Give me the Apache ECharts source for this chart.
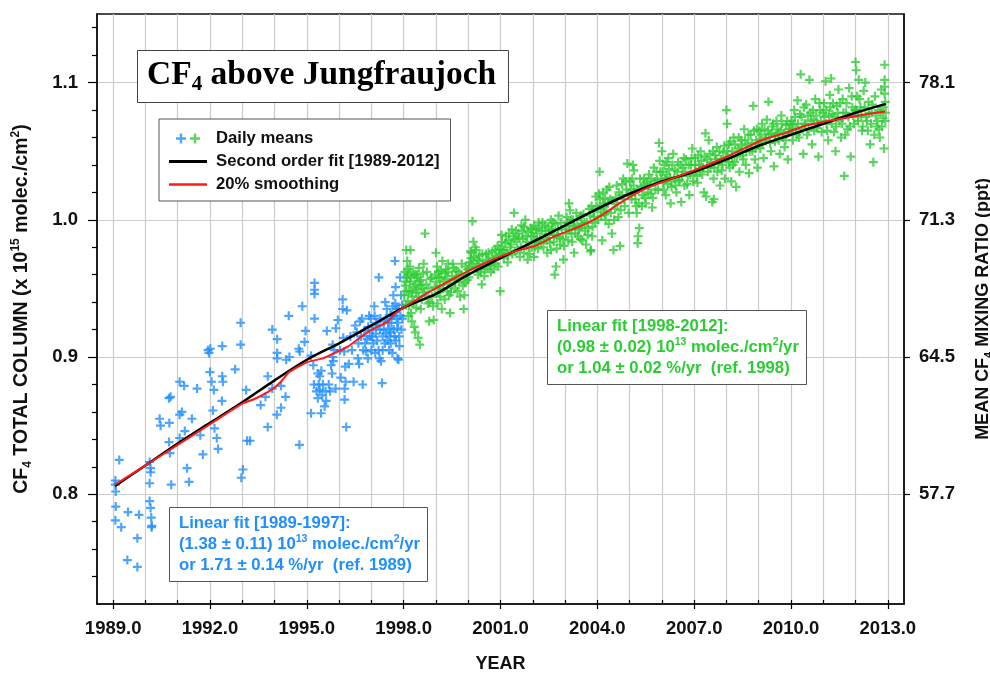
<!DOCTYPE html>
<html><head><meta charset="utf-8">
<script src="https://cdn.jsdelivr.net/npm/echarts@6/dist/echarts.min.js"></script>
<style>html,body{margin:0;padding:0;background:#fff}#c{width:990px;height:673px}</style>
</head><body><div id="c"></div>
<script>
// ---------- data ----------
const yearTicks = [1989,1990,1991,1992,1993,1994,1995,1996,1997,1998,1999,2000,2001,2002,2003,2004,2005,2006,2007,2008,2009,2010,2011,2012,2013];
const yearLabelTicks = [1989,1992,1995,1998,2001,2004,2007,2010,2013];
const columnTicks = [0.8,0.9,1.0,1.1];
const columnMinorTicks = [0.74,0.76,0.78,0.82,0.84,0.86,0.88,0.92,0.94,0.96,0.98,1.02,1.04,1.06,1.08,1.12,1.14];
const mixingRatioLabels = ['57.7','64.5','71.3','78.1'];

const fitYears = [1989.06,1990,1991,1992,1993,1994,1995,1996,1997,1998,1999,2000,2001,2002,2003,2004,2005,2006,2007,2008,2009,2010,2011,2012,2012.94];
const fitValues = [0.806,0.821,0.837,0.852,0.867,0.883,0.898,0.910,0.923,0.936,0.946,0.960,0.972,0.984,0.996,1.008,1.019,1.028,1.035,1.044,1.054,1.062,1.070,1.078,1.0845];

const smoothYears = [1989.06,1990.14,1991,1992,1993,1993.4,1993.9,1994.2,1994.45,1995.04,1995.5,1995.87,1996.3,1996.7,1997.1,1997.52,1997.73,1998.34,1998.96,1999.58,2000.2,2000.82,2001.44,2002.06,2002.68,2003.45,2004.07,2004.69,2005.31,2005.92,2006.54,2007.16,2007.78,2008.55,2009.17,2009.79,2010.41,2011.03,2011.65,2012.27,2012.92];
const smoothValues = [0.807,0.823,0.836,0.851,0.866,0.8696,0.876,0.882,0.889,0.8965,0.899,0.903,0.908,0.915,0.921,0.926,0.9316,0.941,0.9496,0.9576,0.965,0.9715,0.977,0.981,0.988,0.9951,1.0024,1.0121,1.0206,1.0267,1.032,1.0376,1.0436,1.052,1.0587,1.063,1.0684,1.0715,1.074,1.0767,1.079];

const dailyBlue = [
[1989.19,0.825],[1989.07,0.810],[1989.07,0.807],[1989.08,0.802],[1989.08,0.791],[1989.07,0.781],[1989.25,0.776],[1989.46,0.787],[1989.8,0.785],[1989.75,0.768],[1989.44,0.752],[1989.75,0.747],
[1990.13,0.8235],[1990.16,0.819],[1990.16,0.816],[1990.13,0.808],[1990.13,0.795],[1990.16,0.790],[1990.18,0.783],[1990.2,0.777],[1990.19,0.776],
[1990.8,0.807],[1990.73,0.838],[1990.76,0.830],[1990.44,0.855],[1990.47,0.850],[1990.74,0.852],[1990.73,0.870],[1990.78,0.871],[1991.06,0.882],[1991.2,0.879],[1991.06,0.858],[1991.13,0.860],[1991.44,0.855],[1991.6,0.877],[1991.22,0.846],[1991.06,0.841],[1991.29,0.819],[1991.35,0.809],[1991.7,0.843],[1991.78,0.829],
[1992.0,0.889],[1992.05,0.882],[1991.94,0.905],[1991.97,0.903],[1992.01,0.906],[1992.38,0.908],[1992.38,0.886],[1992.4,0.882],[1992.12,0.876],[1992.09,0.861],[1992.14,0.848],[1992.21,0.841],[1992.25,0.833],[1992.37,0.868],[1992.78,0.891],[1992.95,0.925],[1992.95,0.909],[1993.12,0.876],[1993.15,0.839],[1993.24,0.839],[1993.02,0.818],[1992.97,0.812],
[1993.57,0.865],[1993.72,0.871],[1993.79,0.886],[1993.93,0.920],[1994.08,0.913],[1994.08,0.903],[1994.08,0.899],[1994.07,0.858],[1994.2,0.863],[1993.79,0.849],[1993.93,0.877],[1994.36,0.898],[1994.46,0.900],[1994.2,0.879],[1994.34,0.871],[1994.44,0.930],[1994.75,0.906],[1994.78,0.904],[1994.77,0.836],[1994.86,0.937],[1994.96,0.919],[1994.93,0.911],
[1995.13,0.859],[1995.13,0.901],[1995.24,0.928],[1995.24,0.954],[1995.24,0.949],[1995.24,0.946],[1995.2,0.894],[1995.34,0.888],[1995.4,0.886],[1995.22,0.880],[1995.37,0.880],[1995.4,0.876],[1995.48,0.872],[1995.44,0.859],[1995.34,0.870],[1995.55,0.864],[1995.6,0.868],[1995.62,0.919],[1995.68,0.880],[1995.75,0.894],[1995.78,0.888],[1995.8,0.909],[1995.8,0.900],[1995.82,0.897],[1995.9,0.921],[1995.89,0.877],[1995.96,0.927],
[1995.85,0.905],[1995.72,0.875],[1995.5,0.880],[1995.58,0.875],[1995.3,0.875],[1995.45,0.890],
[1996.03,0.905],[1996.11,0.942],[1996.11,0.935],[1996.13,0.914],[1996.16,0.904],[1996.19,0.893],[1996.2,0.882],[1996.17,0.877],[1996.17,0.869],[1996.22,0.849],[1996.24,0.934],[1996.45,0.882],[1996.5,0.923],[1996.58,0.899],[1996.6,0.910],[1996.73,0.880],[1996.71,0.928],[1996.78,0.919],[1996.81,0.910],[1996.84,0.904],[1996.89,0.899],[1996.9,0.922],[1996.95,0.915],[1996.98,0.928],
[1996.05,0.885],[1996.3,0.895],[1996.35,0.915],[1996.4,0.905],[1996.55,0.918],[1996.65,0.926],[1996.62,0.895],[1996.68,0.915],[1996.75,0.905],[1996.87,0.913],[1996.93,0.930],
[1997.0,0.905],[1997.04,0.920],[1997.06,0.910],[1997.09,0.937],[1997.12,0.903],[1997.14,0.917],[1997.15,0.925],[1997.2,0.923],[1997.23,0.958],[1997.25,0.899],[1997.27,0.920],[1997.3,0.897],[1997.33,0.881],[1997.35,0.915],[1997.35,0.905],[1997.4,0.926],[1997.43,0.940],[1997.45,0.917],[1997.45,0.928],[1997.5,0.912],[1997.54,0.921],[1997.55,0.905],[1997.59,0.931],[1997.6,0.918],[1997.6,0.910],[1997.62,0.925],[1997.65,0.903],[1997.66,0.937],[1997.68,0.945],[1997.7,0.930],[1997.72,0.915],[1997.73,0.970],[1997.74,0.939],[1997.75,0.951],[1997.78,0.928],[1997.8,0.921],[1997.81,0.899],[1997.84,0.898],[1997.85,0.935],[1997.87,0.908],[1997.89,0.958],[1997.9,0.930],[1997.92,0.945],[1997.95,0.938],
[1997.02,0.915],[1997.1,0.930],[1997.18,0.912],[1997.22,0.905],[1997.28,0.928],[1997.38,0.920],[1997.42,0.910],[1997.48,0.935],[1997.52,0.925],[1997.57,0.915],[1997.63,0.930],[1997.69,0.920],[1997.76,0.912],[1997.79,0.935],[1997.83,0.925],[1997.86,0.915],[1997.93,0.920],[1997.96,0.928]
];

const dailyGreen = [
[1998.02,0.945],[1998.05,0.952],[1998.07,0.938],[1998.08,0.978],[1998.1,0.958],[1998.12,0.964],[1998.13,0.941],[1998.15,0.930],[1998.17,0.948],[1998.2,0.955],[1998.21,0.978],[1998.23,0.932],[1998.25,0.926],[1998.27,0.944],[1998.3,0.951],[1998.33,0.922],[1998.34,0.960],[1998.36,0.918],[1998.38,0.947],[1998.4,0.958],[1998.43,0.949],[1998.45,0.914],[1998.47,0.965],[1998.5,0.909],[1998.52,0.952],[1998.54,0.956],[1998.56,0.942],[1998.6,0.961],[1998.63,0.947],[1998.66,0.990],[1998.7,0.953],[1998.75,0.939],[1998.79,0.926],[1998.83,0.957],[1998.88,0.944],[1998.93,0.927],[1998.96,0.951],
[1998.04,0.962],[1998.06,0.955],[1998.09,0.948],[1998.11,0.970],[1998.14,0.960],[1998.16,0.937],[1998.19,0.966],[1998.22,0.958],[1998.24,0.947],[1998.28,0.962],[1998.31,0.940],[1998.35,0.953],[1998.39,0.936],[1998.42,0.960],[1998.46,0.944],[1998.49,0.955],[1998.53,0.935],[1998.58,0.950],[1998.62,0.968],[1998.68,0.945],[1998.72,0.962],[1998.77,0.950],[1998.81,0.940],[1998.86,0.958],[1998.91,0.937],[1998.98,0.960],
[1999.0,0.976],[1999.03,0.966],[1999.05,0.939],[1999.07,0.947],[1999.1,0.958],[1999.12,0.952],[1999.15,0.963],[1999.18,0.935],[1999.2,0.970],[1999.25,0.955],[1999.28,0.961],[1999.31,0.964],[1999.35,0.948],[1999.38,0.968],[1999.42,0.953],[1999.44,0.932],[1999.46,0.947],[1999.5,0.959],[1999.55,0.965],[1999.6,0.950],[1999.65,0.957],[1999.7,0.962],[1999.75,0.944],[1999.8,0.968],[1999.86,0.935],[1999.88,0.945],[1999.9,0.954],[1999.95,0.960],[1999.98,0.964],
[1999.02,0.955],[1999.08,0.962],[1999.13,0.944],[1999.17,0.958],[1999.22,0.950],[1999.27,0.942],[1999.33,0.957],[1999.37,0.962],[1999.41,0.945],[1999.48,0.952],[1999.52,0.968],[1999.57,0.956],[1999.62,0.963],[1999.67,0.948],[1999.72,0.955],[1999.78,0.960],[1999.83,0.952],[1999.92,0.966],[1999.97,0.956],
[2000.02,0.958],[2000.05,0.969],[2000.08,0.972],[2000.1,0.976],[2000.13,0.999],[2000.16,0.984],[2000.2,0.965],[2000.25,0.978],[2000.28,0.971],[2000.3,0.960],[2000.35,0.974],[2000.39,0.964],[2000.42,0.953],[2000.45,0.968],[2000.5,0.959],[2000.55,0.975],[2000.6,0.966],[2000.65,0.970],[2000.7,0.962],[2000.75,0.977],[2000.8,0.971],[2000.85,0.968],[2000.91,0.981],[2000.95,0.974],[2000.99,0.948],
[2000.03,0.964],[2000.07,0.977],[2000.12,0.968],[2000.18,0.973],[2000.22,0.980],[2000.27,0.966],[2000.33,0.970],[2000.37,0.962],[2000.44,0.975],[2000.48,0.967],[2000.53,0.964],[2000.58,0.971],[2000.63,0.976],[2000.68,0.967],[2000.73,0.972],[2000.78,0.964],[2000.83,0.978],[2000.88,0.973],[2000.93,0.966],[2000.97,0.979],
[2001.03,0.989],[2001.06,0.978],[2001.1,0.972],[2001.15,0.983],[2001.2,0.976],[2001.22,0.969],[2001.25,0.985],[2001.3,0.980],[2001.35,0.993],[2001.4,0.988],[2001.42,1.005],[2001.45,0.977],[2001.5,0.984],[2001.55,0.990],[2001.6,0.973],[2001.65,0.996],[2001.7,0.986],[2001.73,0.995],[2001.77,1.000],[2001.8,0.981],[2001.84,0.971],[2001.85,0.991],[2001.9,0.975],[2001.95,0.988],[2001.98,0.993],
[2001.01,0.975],[2001.05,0.984],[2001.12,0.978],[2001.17,0.988],[2001.23,0.974],[2001.27,0.990],[2001.33,0.982],[2001.37,0.975],[2001.43,0.986],[2001.48,0.992],[2001.53,0.978],[2001.58,0.987],[2001.63,0.980],[2001.68,0.992],[2001.72,0.976],[2001.78,0.988],[2001.83,0.984],[2001.88,0.980],[2001.93,0.994],[2001.97,0.980],
[2002.04,0.996],[2002.04,0.973],[2002.08,0.985],[2002.12,0.990],[2002.16,0.979],[2002.2,0.994],[2002.25,0.983],[2002.3,0.998],[2002.35,0.987],[2002.4,0.992],[2002.45,0.976],[2002.5,0.989],[2002.56,1.000],[2002.56,0.978],[2002.6,0.993],[2002.65,0.984],[2002.68,0.960],[2002.7,0.997],[2002.72,0.966],[2002.75,0.988],[2002.8,1.003],[2002.85,0.982],[2002.9,0.993],[2002.95,0.971],[2002.97,0.981],
[2002.02,0.988],[2002.06,0.980],[2002.1,0.993],[2002.14,0.984],[2002.18,0.998],[2002.22,0.986],[2002.28,0.992],[2002.33,0.980],[2002.38,0.996],[2002.43,0.985],[2002.48,0.995],[2002.53,0.983],[2002.58,0.992],[2002.63,0.998],[2002.67,0.989],[2002.74,0.979],[2002.78,0.993],[2002.83,0.987],[2002.88,0.998],[2002.93,0.986],
[2003.02,0.995],[2003.05,1.002],[2003.1,0.985],[2003.12,1.012],[2003.15,1.007],[2003.2,0.990],[2003.25,1.000],[2003.28,0.976],[2003.3,0.995],[2003.35,1.005],[2003.4,0.988],[2003.45,0.994],[2003.5,1.003],[2003.54,0.985],[2003.6,0.998],[2003.65,0.982],[2003.7,0.989],[2003.75,1.008],[2003.79,0.977],[2003.8,0.978],[2003.82,1.010],[2003.85,0.995],[2003.9,1.002],[2003.95,1.017],
[2003.03,0.990],[2003.08,0.998],[2003.13,0.993],[2003.18,1.000],[2003.22,0.984],[2003.27,0.996],[2003.32,0.990],[2003.38,1.000],[2003.42,0.993],[2003.48,0.986],[2003.52,0.997],[2003.57,1.004],[2003.62,0.992],[2003.68,0.998],[2003.72,0.994],[2003.78,1.003],[2003.84,0.988],[2003.88,1.006],[2003.93,0.998],[2003.97,1.010],
[2004.02,1.000],[2004.05,1.019],[2004.07,1.035],[2004.1,1.008],[2004.15,0.985],[2004.18,1.012],[2004.22,1.004],[2004.26,1.000],[2004.3,1.022],[2004.35,0.997],[2004.4,1.015],[2004.45,0.990],[2004.5,0.978],[2004.55,1.008],[2004.6,1.025],[2004.65,1.002],[2004.7,0.981],[2004.75,1.018],[2004.8,1.030],[2004.85,1.010],[2004.9,1.022],[2004.93,1.041],[2004.97,1.005],
[2004.03,1.008],[2004.08,1.015],[2004.12,1.003],[2004.17,1.020],[2004.2,1.010],[2004.24,1.016],[2004.28,1.006],[2004.33,1.012],[2004.37,1.024],[2004.42,1.005],[2004.47,1.014],[2004.52,1.000],[2004.57,1.016],[2004.62,1.012],[2004.67,1.020],[2004.72,1.007],[2004.77,1.026],[2004.82,1.015],[2004.87,1.028],[2004.95,1.018],
[2005.02,1.028],[2005.06,1.015],[2005.1,1.040],[2005.13,1.036],[2005.16,1.020],[2005.2,1.010],[2005.22,1.005],[2005.25,0.983],[2005.26,0.988],[2005.3,0.994],[2005.35,1.024],[2005.4,1.018],[2005.45,1.030],[2005.5,1.012],[2005.55,1.026],[2005.6,1.033],[2005.65,1.019],[2005.7,1.009],[2005.75,1.038],[2005.8,1.022],[2005.85,1.029],[2005.91,1.056],[2005.95,1.035],
[2005.04,1.022],[2005.08,1.030],[2005.12,1.025],[2005.18,1.015],[2005.24,1.022],[2005.28,1.012],[2005.32,1.030],[2005.38,1.010],[2005.42,1.025],[2005.47,1.016],[2005.52,1.028],[2005.57,1.020],[2005.62,1.025],[2005.67,1.030],[2005.72,1.016],[2005.78,1.028],[2005.83,1.035],[2005.88,1.022],[2005.93,1.043],[2005.98,1.030],
[2006.0,1.050],[2006.03,1.027],[2006.08,1.040],[2006.12,1.018],[2006.15,1.033],[2006.2,1.045],[2006.25,1.031],[2006.27,1.012],[2006.3,1.024],[2006.35,1.048],[2006.4,1.036],[2006.45,1.020],[2006.5,1.042],[2006.55,1.029],[2006.6,1.013],[2006.65,1.038],[2006.7,1.025],[2006.75,1.044],[2006.8,1.032],[2006.85,1.018],[2006.9,1.040],[2006.94,1.052],[2006.97,1.028],
[2006.02,1.035],[2006.06,1.022],[2006.1,1.030],[2006.14,1.042],[2006.18,1.026],[2006.22,1.037],[2006.28,1.028],[2006.32,1.040],[2006.38,1.030],[2006.42,1.025],[2006.48,1.035],[2006.52,1.028],[2006.58,1.040],[2006.62,1.032],[2006.68,1.045],[2006.72,1.035],[2006.78,1.026],[2006.83,1.040],[2006.88,1.033],[2006.92,1.045],
[2007.02,1.045],[2007.05,1.035],[2007.1,1.027],[2007.15,1.040],[2007.2,1.050],[2007.25,1.033],[2007.3,1.020],[2007.35,1.063],[2007.37,1.017],[2007.4,1.044],[2007.45,1.058],[2007.5,1.038],[2007.56,1.013],[2007.6,1.030],[2007.61,1.015],[2007.65,1.047],[2007.7,1.053],[2007.75,1.041],[2007.8,1.025],[2007.85,1.036],[2007.9,1.049],[2007.95,1.030],
[2007.03,1.040],[2007.08,1.032],[2007.12,1.047],[2007.18,1.036],[2007.22,1.043],[2007.28,1.038],[2007.32,1.046],[2007.42,1.035],[2007.48,1.048],[2007.52,1.042],[2007.58,1.050],[2007.63,1.038],[2007.68,1.044],[2007.72,1.035],[2007.78,1.050],[2007.83,1.044],[2007.88,1.040],[2007.93,1.054],[2007.98,1.045],
[2008.0,1.080],[2008.02,1.070],[2008.05,1.045],[2008.08,1.055],[2008.1,1.038],[2008.15,1.028],[2008.18,1.050],[2008.22,1.060],[2008.25,1.042],[2008.3,1.024],[2008.35,1.052],[2008.4,1.035],[2008.45,1.058],[2008.5,1.047],[2008.55,1.066],[2008.6,1.040],[2008.65,1.055],[2008.7,1.034],[2008.75,1.062],[2008.8,1.050],[2008.83,1.083],[2008.88,1.044],[2008.92,1.058],[2008.96,1.038],
[2008.03,1.050],[2008.07,1.042],[2008.12,1.057],[2008.17,1.046],[2008.2,1.040],[2008.27,1.055],[2008.32,1.046],[2008.38,1.060],[2008.42,1.050],[2008.48,1.054],[2008.52,1.044],[2008.58,1.058],[2008.62,1.050],[2008.68,1.062],[2008.72,1.050],[2008.78,1.056],[2008.85,1.065],[2008.9,1.052],[2008.94,1.066],[2008.98,1.056],
[2009.02,1.065],[2009.05,1.052],[2009.1,1.070],[2009.15,1.045],[2009.2,1.058],[2009.25,1.073],[2009.3,1.086],[2009.33,1.062],[2009.38,1.050],[2009.42,1.068],[2009.47,1.039],[2009.5,1.057],[2009.55,1.072],[2009.6,1.063],[2009.65,1.048],[2009.7,1.076],[2009.75,1.060],[2009.8,1.053],[2009.85,1.069],[2009.9,1.044],[2009.95,1.064],
[2009.03,1.058],[2009.08,1.062],[2009.12,1.055],[2009.18,1.066],[2009.22,1.060],[2009.28,1.065],[2009.35,1.056],[2009.4,1.063],[2009.45,1.070],[2009.52,1.062],[2009.58,1.066],[2009.62,1.058],[2009.68,1.065],[2009.72,1.070],[2009.78,1.063],[2009.83,1.058],[2009.88,1.072],[2009.93,1.066],[2009.98,1.070],
[2010.02,1.072],[2010.06,1.058],[2010.1,1.080],[2010.15,1.066],[2010.2,1.087],[2010.25,1.060],[2010.3,1.106],[2010.33,1.075],[2010.38,1.048],[2010.42,1.070],[2010.47,1.084],[2010.5,1.062],[2010.57,1.102],[2010.6,1.078],[2010.65,1.055],[2010.7,1.073],[2010.75,1.088],[2010.8,1.067],[2010.85,1.046],[2010.9,1.080],[2010.95,1.064],
[2010.04,1.066],[2010.08,1.070],[2010.12,1.075],[2010.18,1.062],[2010.22,1.070],[2010.28,1.077],[2010.35,1.066],[2010.4,1.082],[2010.45,1.070],[2010.52,1.076],[2010.55,1.066],[2010.62,1.072],[2010.68,1.080],[2010.72,1.065],[2010.78,1.076],[2010.82,1.070],[2010.88,1.085],[2010.92,1.072],[2010.98,1.078],
[2011.02,1.085],[2011.07,1.101],[2011.1,1.070],[2011.15,1.058],[2011.2,1.091],[2011.24,1.103],[2011.28,1.077],[2011.33,1.064],[2011.38,1.050],[2011.42,1.083],[2011.47,1.095],[2011.5,1.072],[2011.55,1.060],[2011.6,1.088],[2011.65,1.032],[2011.7,1.078],[2011.75,1.066],[2011.8,1.096],[2011.85,1.046],[2011.9,1.082],[2011.95,1.070],
[2011.04,1.075],[2011.08,1.080],[2011.12,1.065],[2011.18,1.076],[2011.22,1.082],[2011.26,1.070],[2011.3,1.085],[2011.35,1.075],[2011.4,1.068],[2011.45,1.078],[2011.52,1.085],[2011.58,1.070],[2011.62,1.078],[2011.68,1.062],[2011.72,1.085],[2011.78,1.075],[2011.82,1.068],[2011.88,1.090],[2011.92,1.076],[2011.98,1.080],
[2012.0,1.115],[2012.02,1.109],[2012.05,1.090],[2012.08,1.075],[2012.1,1.102],[2012.15,1.082],[2012.2,1.065],[2012.25,1.094],[2012.3,1.100],[2012.35,1.072],[2012.4,1.086],[2012.45,1.055],[2012.5,1.078],[2012.55,1.042],[2012.6,1.090],[2012.65,1.068],[2012.7,1.080],[2012.75,1.060],[2012.8,1.095],[2012.85,1.074],[2012.88,1.052],[2012.9,1.113],[2012.9,1.102],[2012.9,1.097],[2012.9,1.092],[2012.92,1.086],
[2012.03,1.080],[2012.07,1.072],[2012.12,1.088],[2012.18,1.076],[2012.22,1.068],[2012.28,1.082],[2012.32,1.075],[2012.38,1.065],[2012.42,1.078],[2012.48,1.070],[2012.52,1.084],[2012.58,1.062],[2012.62,1.076],[2012.68,1.072],[2012.72,1.066],[2012.78,1.078],[2012.82,1.068],[2012.86,1.082],[2012.92,1.072],[2012.93,1.078]
];

// ---------- chart ----------
const BLUE = '#1f8fff', GREEN = '#2ecc34', RED = '#ff1a1a';
const SANS = '"Liberation Sans", Arial, sans-serif';
const SERIF = '"Liberation Serif", "Times New Roman", serif';
const PLUS = 'path://M3.8,0H6.2V3.8H10V6.2H6.2V10H3.8V6.2H0V3.8H3.8Z';
const PLUS2 = 'path://M3.8,0H6.2V3.8H10V6.2H6.2V10H3.8V6.2H0V3.8H3.8Z M17.8,0H20.2V3.8H24V6.2H20.2V10H17.8V6.2H14V3.8H17.8Z';
const GRID = {left: 97, top: 14, width: 807, height: 590, outerBoundsMode: 'none', containLabel: false};
const XMIN = 1988.5, XMAX = 2013.5, YMIN = 0.72, YMAX = 1.15;

const zip = (xs, ys) => xs.map((x, i) => [x, ys[i]]);
const lbl = {fontFamily: SANS, fontWeight: 'bold', fontSize: 18.5, color: '#111'};
const tickLine = {color: '#000', width: 1.2};
const TXT = 16.7;

const chart = echarts.init(document.getElementById('c'), null, {renderer: 'canvas'});
chart.setOption({
  animation: false,
  backgroundColor: '#fff',
  title: [
    {
      text: '{a|CF}{s|4}{a| above Jungfraujoch}',
      left: 137, top: 48, padding: [8, 13, 8, 10],
      borderColor: '#444', borderWidth: 1, backgroundColor: '#fff',
      textStyle: {rich: {
        a: {fontFamily: SERIF, fontWeight: 'bold', fontSize: 33.5, color: '#000', lineHeight: 39},
        s: {fontFamily: SERIF, fontWeight: 'bold', fontSize: 21, color: '#000', verticalAlign: 'bottom', lineHeight: 28}
      }}
    },
    {
      text: 'Linear fit [1989-1997]:\n(1.38 ± 0.11) 10{sup|13} molec./cm{sup|2}/yr\nor 1.71 ± 0.14 %/yr  (ref. 1989)',
      left: 169, top: 507, padding: [6, 8, 6, 10],
      borderColor: '#555', borderWidth: 1, backgroundColor: '#fff',
      textStyle: {fontFamily: SANS, fontWeight: 'bold', fontSize: TXT, color: BLUE, lineHeight: 21,
        rich: {sup: {fontFamily: SANS, fontWeight: 'bold', fontSize: 10.5, color: BLUE, verticalAlign: 'top', lineHeight: 12}}}
    },
    {
      text: 'Linear fit [1998-2012]:\n(0.98 ± 0.02) 10{sup|13} molec./cm{sup|2}/yr\nor 1.04 ± 0.02 %/yr  (ref. 1998)',
      left: 547, top: 310, padding: [6, 8, 6, 10],
      borderColor: '#555', borderWidth: 1, backgroundColor: '#fff',
      textStyle: {fontFamily: SANS, fontWeight: 'bold', fontSize: TXT, color: GREEN, lineHeight: 21,
        rich: {sup: {fontFamily: SANS, fontWeight: 'bold', fontSize: 10.5, color: GREEN, verticalAlign: 'top', lineHeight: 12}}}
    }
  ],
  legend: {
    orient: 'vertical', left: 159, top: 119, padding: [11, 11, 8, 10],
    borderColor: '#555', borderWidth: 1, backgroundColor: '#fff',
    itemWidth: 38, itemHeight: 10, itemGap: 6, selectedMode: false,
    textStyle: {fontFamily: SANS, fontWeight: 'bold', fontSize: TXT, color: '#111', padding: [0, 0, 0, 4]},
    data: [
      {name: 'Daily means', icon: PLUS2, itemStyle: {color: {type: 'linear', x: 0, y: 0, x2: 1, y2: 0,
        colorStops: [{offset: 0, color: BLUE}, {offset: 0.5, color: BLUE}, {offset: 0.5, color: GREEN}, {offset: 1, color: GREEN}]}}},
      {name: 'Second order fit [1989-2012]', icon: 'path://M0,0H38V3H0Z'},
      {name: '20% smoothing', icon: 'path://M0,0H38V2.5H0Z'}
    ]
  },
  grid: [
    Object.assign({show: true, borderColor: '#111', borderWidth: 1.5, backgroundColor: 'transparent'}, GRID),
    Object.assign({show: false}, GRID)
  ],
  xAxis: [
    {
      type: 'value', gridIndex: 0, position: 'bottom', min: XMIN, max: XMAX,
      axisLine: {show: true, lineStyle: {color: '#111', width: 1.5}},
      axisTick: {show: true, inside: true, length: 4, customValues: yearTicks, lineStyle: tickLine},
      axisLabel: Object.assign({customValues: yearLabelTicks, margin: 15, formatter: v => v.toFixed(1)}, lbl),
      splitLine: {show: true, lineStyle: {color: '#cccccc', width: 1.2}},
      name: 'YEAR', nameLocation: 'middle', nameGap: 51,
      nameTextStyle: {fontFamily: SANS, fontWeight: 'bold', fontSize: 18, color: '#111'}
    },
    {
      type: 'value', gridIndex: 1, position: 'bottom', min: XMIN, max: XMAX,
      axisLine: {show: false},
      axisTick: {show: true, inside: false, length: 5, customValues: yearLabelTicks, lineStyle: tickLine},
      axisLabel: {show: false}, splitLine: {show: false}
    }
  ],
  yAxis: [
    {
      type: 'value', gridIndex: 0, position: 'left', min: YMIN, max: YMAX,
      axisLine: {show: true, lineStyle: {color: '#111', width: 1.5}},
      axisTick: {show: true, inside: false, length: 9, customValues: columnTicks, lineStyle: tickLine},
      axisLabel: Object.assign({customValues: columnTicks, margin: 19, formatter: v => v.toFixed(1)}, lbl),
      splitLine: {show: true, lineStyle: {color: '#cccccc', width: 1.2}},
      name: 'CF{sub|4} TOTAL COLUMN (x 10{sup|15} molec./cm{sup|2})', nameLocation: 'middle', nameGap: 63, nameRotate: 90,
      nameTextStyle: {fontFamily: SANS, fontWeight: 'bold', fontSize: 19.5, color: '#111', lineHeight: 24,
        rich: {
          sub: {fontFamily: SANS, fontWeight: 'bold', fontSize: 12, color: '#111', verticalAlign: 'bottom', lineHeight: 15},
          sup: {fontFamily: SANS, fontWeight: 'bold', fontSize: 12, color: '#111', verticalAlign: 'top', lineHeight: 15}
        }}
    },
    {
      type: 'value', gridIndex: 0, position: 'right', min: YMIN, max: YMAX,
      axisLine: {show: true, lineStyle: {color: '#111', width: 1.5}},
      axisTick: {show: true, inside: false, length: 6, customValues: columnTicks, lineStyle: tickLine},
      axisLabel: Object.assign({customValues: columnTicks, margin: 15,
        formatter: v => mixingRatioLabels[columnTicks.findIndex(t => Math.abs(t - v) < 1e-6)]}, lbl),
      splitLine: {show: false},
      name: 'MEAN CF{sub|4} MIXING RATIO (ppt)', nameLocation: 'middle', nameGap: 68, nameRotate: 90,
      nameTextStyle: {fontFamily: SANS, fontWeight: 'bold', fontSize: 18, color: '#111', lineHeight: 22,
        rich: {
          sub: {fontFamily: SANS, fontWeight: 'bold', fontSize: 11, color: '#111', verticalAlign: 'bottom', lineHeight: 14}
        }}
    },
    {
      type: 'value', gridIndex: 1, position: 'left', min: YMIN, max: YMAX,
      axisLine: {show: false},
      axisTick: {show: true, inside: false, length: 5, customValues: columnMinorTicks, lineStyle: tickLine},
      axisLabel: {show: false}, splitLine: {show: false}
    }
  ],
  series: [
    {name: 'Daily means', type: 'scatter', xAxisIndex: 0, yAxisIndex: 0, data: dailyBlue,
      symbol: PLUS, symbolSize: 9, itemStyle: {color: BLUE}, z: 3},
    {name: 'Daily means (1998-2012)', type: 'scatter', xAxisIndex: 0, yAxisIndex: 0, data: dailyGreen,
      symbol: PLUS, symbolSize: 9, itemStyle: {color: GREEN}, z: 3},
    {name: 'Second order fit [1989-2012]', type: 'line', xAxisIndex: 0, yAxisIndex: 0, data: zip(fitYears, fitValues),
      symbol: 'none', smooth: 0.3, color: '#000', lineStyle: {color: '#000', width: 2.5}, z: 4},
    {name: '20% smoothing', type: 'line', xAxisIndex: 0, yAxisIndex: 0, data: zip(smoothYears, smoothValues),
      symbol: 'none', smooth: 0.2, color: RED, lineStyle: {color: RED, width: 2}, z: 5}
  ]
});
</script>
</body></html>
